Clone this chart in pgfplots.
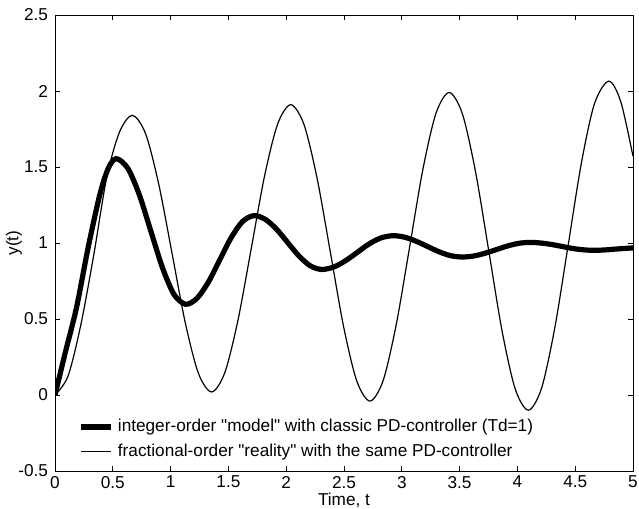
\documentclass[border=0pt]{standalone}
\usepackage{fontspec}
\setmainfont{Liberation Sans}
\usepackage{pgfplots}
\pgfplotsset{compat=1.18}
\usetikzlibrary{calc}

\begin{document}
\begin{tikzpicture}
\begin{axis}[
    scale only axis,
    width=289pt, height=228pt,
    xmin=0, xmax=5, ymin=-0.5, ymax=2.5,
    xtick={0,0.5,...,5}, ytick={-0.5,0,...,2.5},
    tick align=inside, major tick length=2.5pt,
    axis line style={line width=0.4pt},
    every tick/.style={black, line width=0.4pt},
    /pgf/number format/assume math mode=true,
    tick label style={font=\fontsize{8.6}{10}\selectfont},
    xticklabel style={yshift=1pt},
    label style={font=\fontsize{8.6}{10}\selectfont},
    xlabel={Time, t}, ylabel={y(t)},
    xlabel style={at={(axis description cs:0.5,0)}, anchor=center, yshift=-14.5pt},
    ylabel style={at={(axis description cs:0,0.5)}, anchor=center, yshift=20.5pt},
    legend cell align=left,
    legend style={at={(0.03,0.007)}, anchor=south west, draw=none, fill=none,
        font=\fontsize{8.6}{10}\selectfont, row sep=0.6pt},
    legend image code/.code={\draw[#1] (0pt,0pt) -- (15pt,0pt);},
]
% integer-order "model"
\addplot[black, line width=2.6pt, smooth] coordinates {
(0,0) (0.086,0.27) (0.186,0.575) (0.286,0.967) (0.387,1.316) (0.46,1.49) (0.53,1.555)
(0.63,1.491) (0.73,1.316) (0.83,1.076) (0.93,0.837) (1.03,0.661) (1.13,0.597)
(1.228,0.636) (1.327,0.743) (1.425,0.889) (1.523,1.034) (1.622,1.141) (1.72,1.18)
(1.818,1.156) (1.915,1.092) (2.013,1.003) (2.11,0.915) (2.208,0.850) (2.305,0.826)
(2.408,0.841) (2.51,0.882) (2.613,0.937) (2.715,0.993) (2.818,1.033) (2.92,1.048)
(3.02,1.039) (3.12,1.013) (3.22,0.978) (3.32,0.943) (3.42,0.917) (3.52,0.908)
(3.618,0.914) (3.717,0.932) (3.815,0.956) (3.913,0.980) (4.012,0.998) (4.11,1.004)
(4.20,1.000) (4.29,0.991) (4.38,0.978) (4.47,0.965) (4.56,0.956) (4.65,0.952)
(4.75,0.954) (4.85,0.960) (5.0,0.968)
};
\addlegendentry{integer-order \textquotedbl model\textquotedbl\ with classic PD-controller (Td=1)}
% fractional-order "reality"
\addplot[black, line width=0.6pt, smooth] coordinates {
(0,0) (0.112,0.123) (0.223,0.46) (0.335,0.92) (0.447,1.43) (0.558,1.73) (0.67,1.84)
(0.784,1.718) (0.898,1.385) (1.013,0.93) (1.127,0.475) (1.241,0.142) (1.355,0.02)
(1.469,0.147) (1.583,0.493) (1.698,0.965) (1.812,1.438) (1.926,1.783) (2.04,1.91)
(2.154,1.779) (2.268,1.423) (2.383,0.935) (2.497,0.448) (2.611,0.091) (2.725,-0.04)
(2.839,0.096) (2.953,0.468) (3.068,0.975) (3.182,1.483) (3.296,1.854) (3.41,1.99)
(3.524,1.85) (3.638,1.468) (3.753,0.945) (3.867,0.423) (3.981,0.04) (4.095,-0.10)
(4.209,0.045) (4.323,0.44) (4.438,0.98) (4.552,1.52) (4.666,1.915) (4.79,2.065)
(4.894,1.93) (5.0,1.57)
};
\addlegendentry{fractional-order \textquotedbl reality\textquotedbl\ with the same PD-controller}
\end{axis}
\pgfresetboundingbox
\path[use as bounding box] ($(current axis.south west)+(-27.5pt,-18.5pt)$)
    rectangle ($(current axis.north east)+(3pt,7.5pt)$);
\end{tikzpicture}
\end{document}
